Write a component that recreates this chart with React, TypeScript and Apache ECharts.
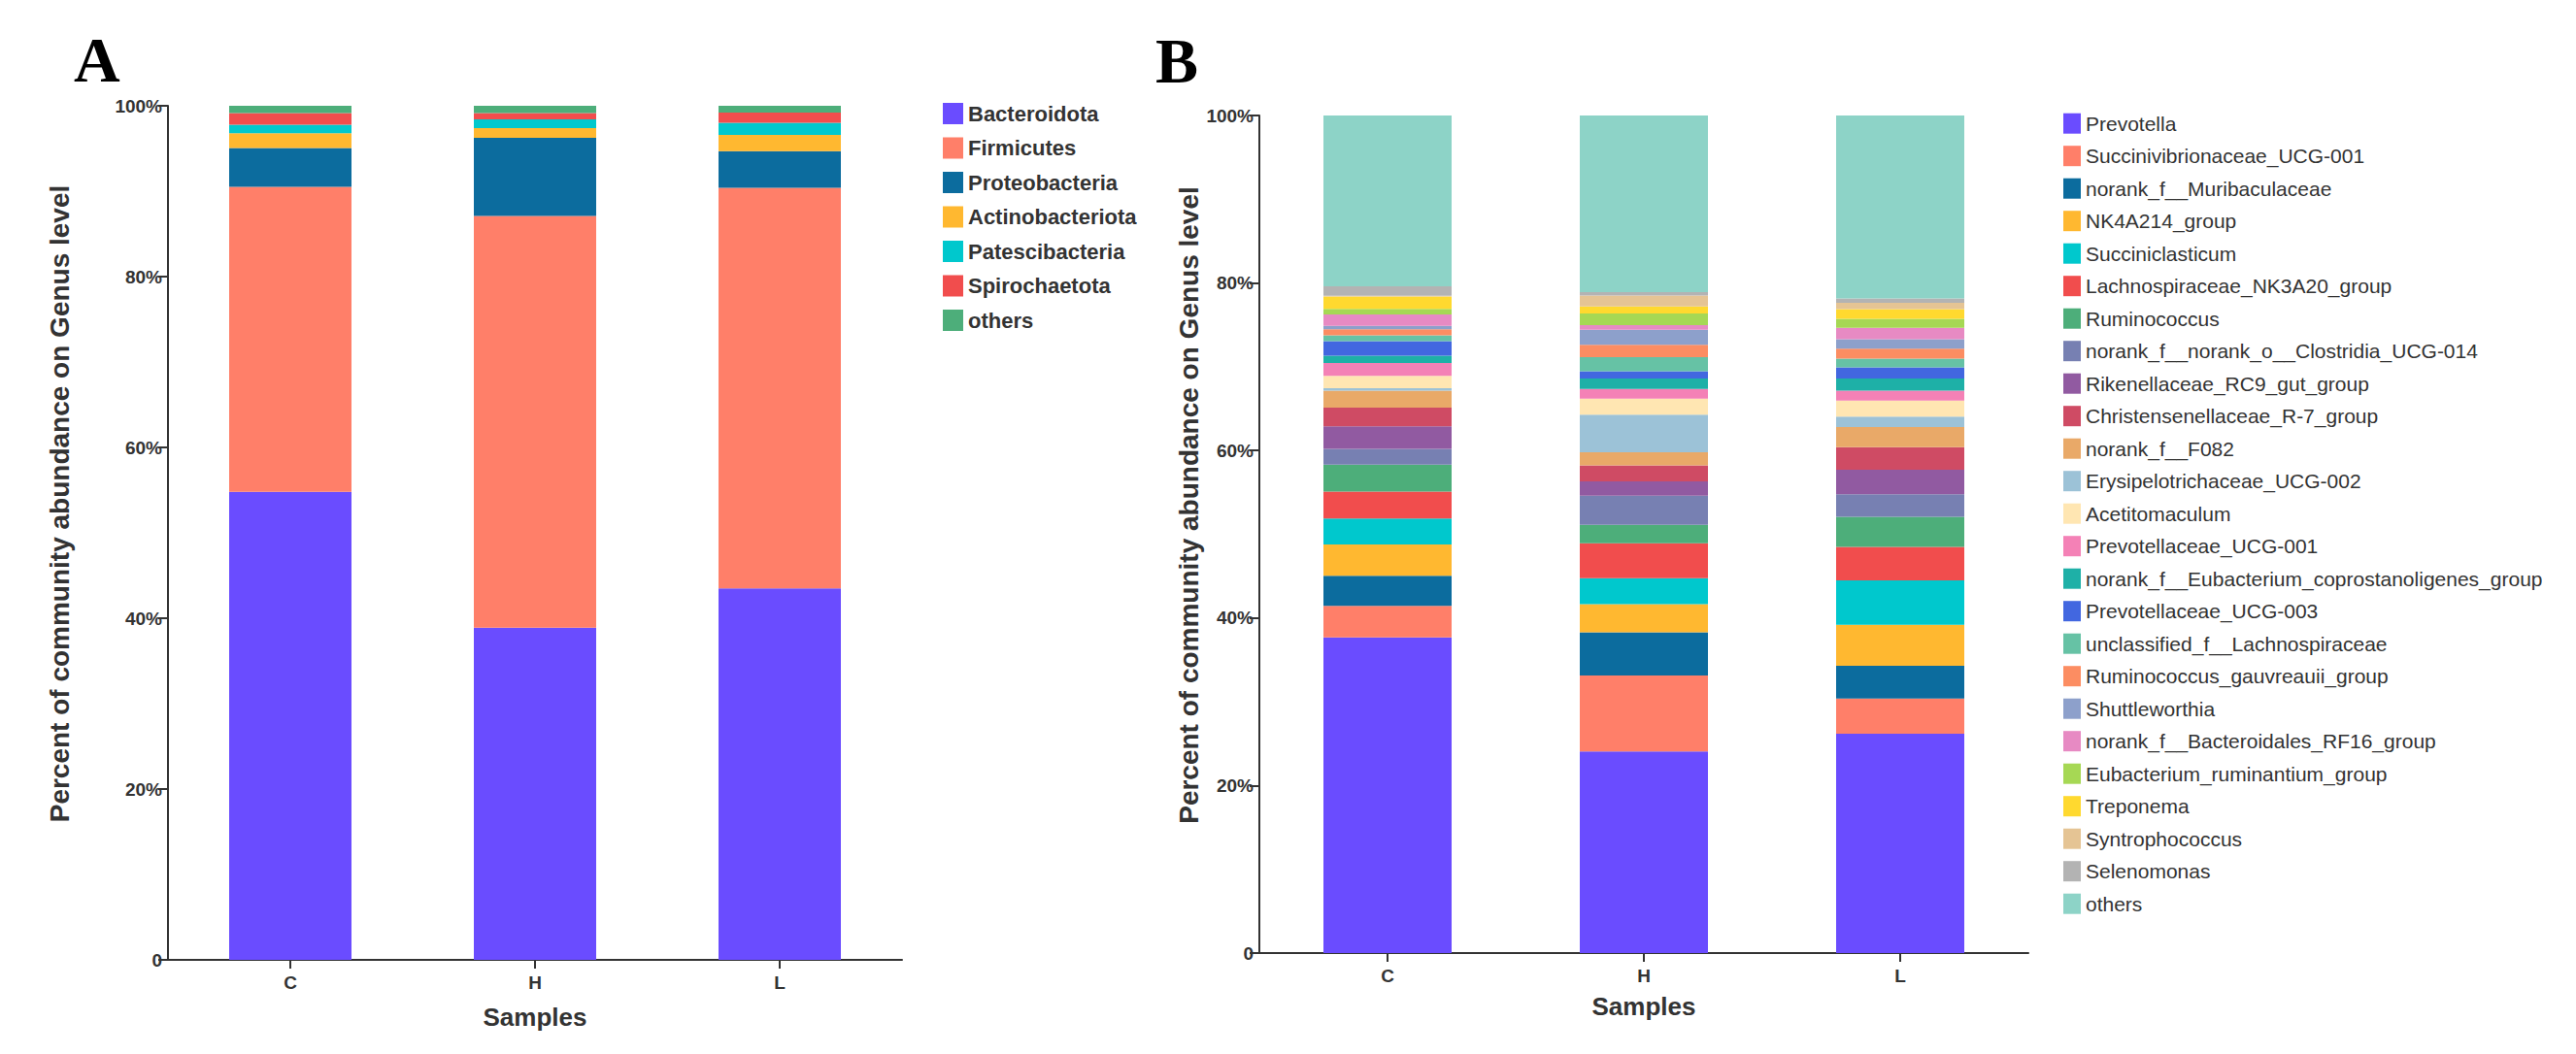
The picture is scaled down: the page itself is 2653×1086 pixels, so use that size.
import React, { useEffect, useRef } from "react";
import * as echarts from "echarts";

const samples = ["C", "H", "L"];
const yTicks = [0, 20, 40, 60, 80, 100];

// Panel A (phylum level)
const phylumNames = ["Bacteroidota", "Firmicutes", "Proteobacteria", "Actinobacteriota", "Patescibacteria", "Spirochaetota", "others"];
const phylumColors = ["#6a4cff", "#ff7f69", "#0c6c9e", "#ffb830", "#00c8cd", "#f14d4d", "#4dae7a"];
const phylumC = [54.8, 35.7, 4.55, 1.75, 0.98, 1.37, 0.85];
const phylumH = [38.9, 48.2, 9.14, 1.14, 1.02, 0.76, 0.84];
const phylumL = [43.5, 46.9, 4.3, 1.9, 1.4, 1.2, 0.8];

// Panel B (genus level)
const genusNames = [
  "Prevotella", "Succinivibrionaceae_UCG-001", "norank_f__Muribaculaceae", "NK4A214_group", "Succiniclasticum",
  "Lachnospiraceae_NK3A20_group", "Ruminococcus", "norank_f__norank_o__Clostridia_UCG-014", "Rikenellaceae_RC9_gut_group",
  "Christensenellaceae_R-7_group", "norank_f__F082", "Erysipelotrichaceae_UCG-002", "Acetitomaculum", "Prevotellaceae_UCG-001",
  "norank_f__Eubacterium_coprostanoligenes_group", "Prevotellaceae_UCG-003", "unclassified_f__Lachnospiraceae",
  "Ruminococcus_gauvreauii_group", "Shuttleworthia", "norank_f__Bacteroidales_RF16_group", "Eubacterium_ruminantium_group",
  "Treponema", "Syntrophococcus", "Selenomonas", "others ",
];
const genusColors = [
  "#6a4cff", "#ff7f69", "#0c6c9e", "#ffb830", "#00c8cd", "#f14d4d", "#4dae7a", "#7780b2", "#915aa1", "#cf4b64",
  "#e9a968", "#9cc2d7", "#ffe6b2", "#f481b6", "#1eb0a7", "#4267e0", "#66c2a5", "#fc8d62", "#8da0cb", "#e78ac3",
  "#a6d854", "#ffd92f", "#e5c494", "#b3b3b3", "#8dd3c7",
];
const genusC = [37.7, 3.75, 3.59, 3.75, 3.09, 3.21, 3.21, 1.89, 2.7, 2.24, 2.01, 0.31, 1.47, 1.54, 0.85, 1.74, 0.7, 0.73, 0.39, 1.39, 0.66, 1.47, 0.1, 1.12, 20.39];
const genusH = [24.07, 9.07, 5.17, 3.36, 3.09, 4.17, 2.2, 3.48, 1.7, 1.93, 1.54, 4.5, 1.9, 1.16, 1.27, 0.85, 1.7, 1.47, 1.8, 0.54, 1.39, 0.85, 1.3, 0.4, 21.09];
const genusL = [26.2, 4.2, 3.9, 4.9, 5.3, 4.0, 3.6, 2.67, 2.93, 2.7, 2.4, 1.24, 1.93, 1.19, 1.43, 1.35, 1.04, 1.19, 1.12, 1.35, 1.08, 1.16, 0.77, 0.5, 21.85];

const FONT = "Liberation Sans, Arial, Helvetica, sans-serif";
const AXIS_COLOR = "#333";

function valueAxis(gridIndex: number, nameGap: number) {
  return {
    type: "value",
    gridIndex,
    min: yTicks[0],
    max: yTicks[yTicks.length - 1],
    interval: 20,
    name: "Percent of community abundance on Genus level",
    nameLocation: "middle",
    nameGap,
    nameTextStyle: { fontFamily: FONT, fontWeight: "bold", fontSize: 28, color: "#333", padding: [0, 0, 0, 60] },
    axisLine: { show: true, lineStyle: { color: AXIS_COLOR, width: 2 } },
    axisTick: { show: true, length: 10, lineStyle: { color: AXIS_COLOR, width: 2 } },
    splitLine: { show: false },
    axisLabel: {
      fontFamily: FONT,
      fontWeight: "bold",
      fontSize: 19,
      color: "#333",
      margin: 6,
      formatter: (v: number) => (v === 0 ? "0" : v + "%"),
    },
  };
}

function categoryAxis(gridIndex: number, nameGap: number) {
  return {
    type: "category",
    gridIndex,
    data: samples,
    name: "Samples",
    nameLocation: "middle",
    nameGap,
    nameTextStyle: { fontFamily: FONT, fontWeight: "bold", fontSize: 26, color: "#333" },
    axisLine: { show: true, lineStyle: { color: AXIS_COLOR, width: 2 } },
    axisTick: { show: true, alignWithLabel: true, length: 9, lineStyle: { color: AXIS_COLOR, width: 2 } },
    axisLabel: { fontFamily: FONT, fontWeight: "bold", fontSize: 19, color: "#333", margin: 14 },
  };
}

export default function App() {
  const ref = useRef<HTMLDivElement>(null);

  useEffect(() => {
    document.body.style.margin = "0";
    if (!ref.current) return;
    const chart = echarts.init(ref.current, null, { renderer: "svg" });

    const seriesA = phylumNames.map((name, i) => ({
      name,
      type: "bar",
      stack: "A",
      xAxisIndex: 0,
      yAxisIndex: 0,
      barWidth: "50%",
      itemStyle: { color: phylumColors[i] },
      data: [phylumC[i], phylumH[i], phylumL[i]],
    }));
    const seriesB = genusNames.map((name, i) => ({
      name,
      type: "bar",
      stack: "B",
      xAxisIndex: 1,
      yAxisIndex: 1,
      barWidth: "50%",
      itemStyle: { color: genusColors[i] },
      data: [genusC[i], genusH[i], genusL[i]],
    }));

    chart.setOption({
      animation: false,
      backgroundColor: "#fff",
      grid: [
        { left: 173, top: 109, width: 756, height: 880 },
        { left: 1297, top: 119, width: 792, height: 863 },
      ],
      xAxis: [categoryAxis(0, 46), categoryAxis(1, 42)],
      yAxis: [valueAxis(0, 98), valueAxis(1, 50)],
      legend: [
        {
          data: phylumNames,
          orient: "vertical",
          left: 971,
          top: 106,
          padding: 0,
          itemWidth: 21,
          itemHeight: 22,
          itemGap: 13.5,
          icon: "rect",
          selectedMode: false,
          textStyle: { fontFamily: FONT, fontWeight: "bold", fontSize: 22, color: "#333", lineHeight: 22 },
        },
        {
          data: genusNames,
          orient: "vertical",
          left: 2125,
          top: 116.7,
          padding: 0,
          itemWidth: 18,
          itemHeight: 21,
          itemGap: 12.5,
          icon: "rect",
          selectedMode: false,
          formatter: (n: string) => n.trim(),
          textStyle: { fontFamily: FONT, fontSize: 21, color: "#333", lineHeight: 21 },
        },
      ],
      graphic: [
        {
          type: "text",
          x: 76,
          y: 61,
          style: { text: "A", fontFamily: "Liberation Serif, Times New Roman, serif", fontWeight: "bold", fontSize: 66, fill: "#000", verticalAlign: "middle", align: "left" },
        },
        {
          type: "text",
          x: 1190,
          y: 62,
          style: { text: "B", fontFamily: "Liberation Serif, Times New Roman, serif", fontWeight: "bold", fontSize: 66, fill: "#000", verticalAlign: "middle", align: "left" },
        },
      ],
      series: [...seriesA, ...seriesB],
    });

    return () => chart.dispose();
  }, []);

  return <div ref={ref} style={{ width: 2653, height: 1086 }} />;
}
